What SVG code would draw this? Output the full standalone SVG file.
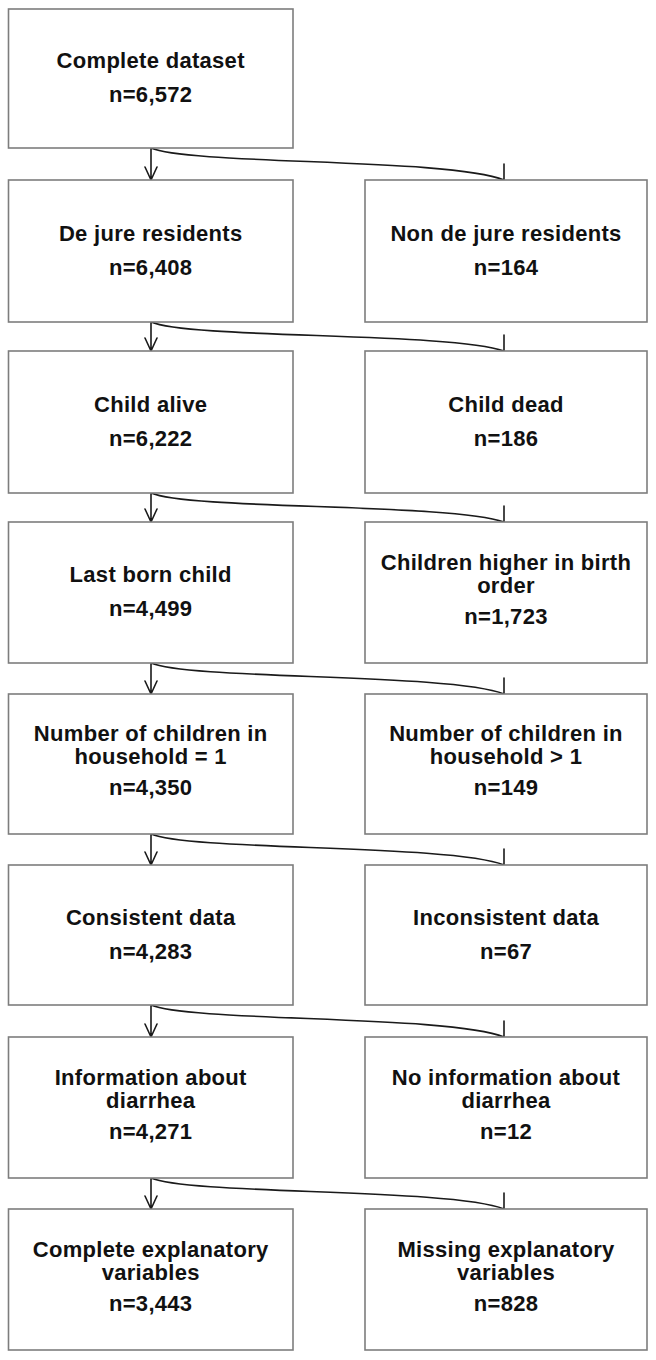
<svg xmlns="http://www.w3.org/2000/svg" width="656" height="1360" viewBox="0 0 656 1360">
<style>
.box{fill:#fff;stroke:#7d7d7d;stroke-width:1.6}
.t{font-family:"Liberation Sans",Arial,sans-serif;font-weight:bold;font-size:22px;letter-spacing:0.3px;fill:#111;text-anchor:middle}
.c{fill:none;stroke:#1a1a1a;stroke-width:1.6;stroke-linecap:round;stroke-linejoin:round}
</style>
<rect width="656" height="1360" fill="#fff"/>
<g id="connectors">
<path class="c" d="M151,148 L151,180 M145,167 L151,180 L157,167 M151,148 C190,165 450,158 504,180 M504,164 L504,180"/>
<path class="c" d="M151,322 L151,351 M145,338 L151,351 L157,338 M151,322 C190,339 450,332 504,351 M504,335 L504,351"/>
<path class="c" d="M151,493 L151,522 M145,509 L151,522 L157,509 M151,493 C190,510 450,503 504,522 M504,506 L504,522"/>
<path class="c" d="M151,663 L151,694 M145,681 L151,694 L157,681 M151,663 C190,680 450,673 504,694 M504,678 L504,694"/>
<path class="c" d="M151,834 L151,865 M145,852 L151,865 L157,852 M151,834 C190,851 450,844 504,865 M504,849 L504,865"/>
<path class="c" d="M151,1005 L151,1037 M145,1024 L151,1037 L157,1024 M151,1005 C190,1022 450,1015 504,1037 M504,1021 L504,1037"/>
<path class="c" d="M151,1178 L151,1209 M145,1196 L151,1209 L157,1196 M151,1178 C190,1195 450,1188 504,1209 M504,1193 L504,1209"/>
</g>
<g id="n1"><rect class="box" x="8.5" y="9" width="284.5" height="139"/><text class="t" x="150.7" y="68">Complete dataset</text><text class="t" x="150.7" y="102">n=6,572</text></g>
<g id="n2"><rect class="box" x="8.5" y="180" width="284.5" height="142"/><text class="t" x="150.7" y="240.5">De jure residents</text><text class="t" x="150.7" y="274.5">n=6,408</text></g>
<g id="n2r"><rect class="box" x="365" y="180" width="282" height="142"/><text class="t" x="506" y="240.5">Non de jure residents</text><text class="t" x="506" y="274.5">n=164</text></g>
<g id="n3"><rect class="box" x="8.5" y="351" width="284.5" height="142"/><text class="t" x="150.7" y="411.5">Child alive</text><text class="t" x="150.7" y="445.5">n=6,222</text></g>
<g id="n3r"><rect class="box" x="365" y="351" width="282" height="142"/><text class="t" x="506" y="411.5">Child dead</text><text class="t" x="506" y="445.5">n=186</text></g>
<g id="n4"><rect class="box" x="8.5" y="522" width="284.5" height="141"/><text class="t" x="150.7" y="582">Last born child</text><text class="t" x="150.7" y="616">n=4,499</text></g>
<g id="n4r"><rect class="box" x="365" y="522" width="282" height="141"/><text class="t" x="506" y="569.5">Children higher in birth</text><text class="t" x="506" y="592.5">order</text><text class="t" x="506" y="623.5">n=1,723</text></g>
<g id="n5"><rect class="box" x="8.5" y="694" width="284.5" height="140"/><text class="t" x="150.7" y="741">Number of children in</text><text class="t" x="150.7" y="764">household = 1</text><text class="t" x="150.7" y="795">n=4,350</text></g>
<g id="n5r"><rect class="box" x="365" y="694" width="282" height="140"/><text class="t" x="506" y="741">Number of children in</text><text class="t" x="506" y="764">household &gt; 1</text><text class="t" x="506" y="795">n=149</text></g>
<g id="n6"><rect class="box" x="8.5" y="865" width="284.5" height="140"/><text class="t" x="150.7" y="924.5">Consistent data</text><text class="t" x="150.7" y="958.5">n=4,283</text></g>
<g id="n6r"><rect class="box" x="365" y="865" width="282" height="140"/><text class="t" x="506" y="924.5">Inconsistent data</text><text class="t" x="506" y="958.5">n=67</text></g>
<g id="n7"><rect class="box" x="8.5" y="1037" width="284.5" height="141"/><text class="t" x="150.7" y="1084.5">Information about</text><text class="t" x="150.7" y="1107.5">diarrhea</text><text class="t" x="150.7" y="1138.5">n=4,271</text></g>
<g id="n7r"><rect class="box" x="365" y="1037" width="282" height="141"/><text class="t" x="506" y="1084.5">No information about</text><text class="t" x="506" y="1107.5">diarrhea</text><text class="t" x="506" y="1138.5">n=12</text></g>
<g id="n8"><rect class="box" x="8.5" y="1209" width="284.5" height="141"/><text class="t" x="150.7" y="1256.5">Complete explanatory</text><text class="t" x="150.7" y="1279.5">variables</text><text class="t" x="150.7" y="1310.5">n=3,443</text></g>
<g id="n8r"><rect class="box" x="365" y="1209" width="282" height="141"/><text class="t" x="506" y="1256.5">Missing explanatory</text><text class="t" x="506" y="1279.5">variables</text><text class="t" x="506" y="1310.5">n=828</text></g>
</svg>
